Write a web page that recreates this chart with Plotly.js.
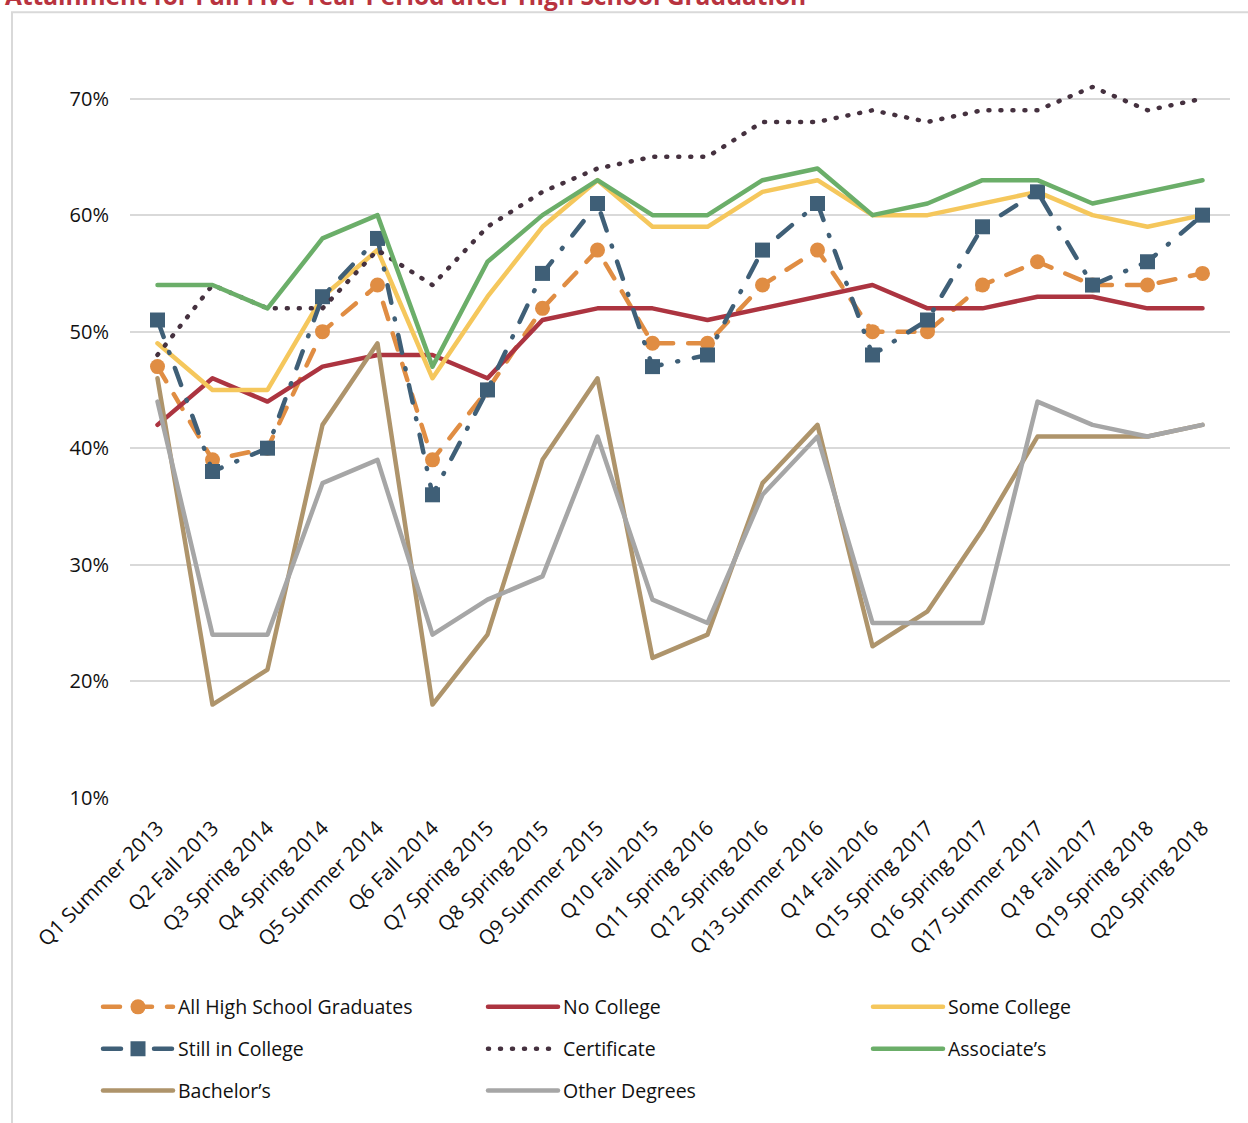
<!DOCTYPE html>
<html>
<head>
<meta charset="utf-8">
<script src="https://cdn.plot.ly/plotly-3.0.1.min.js"></script>
<style>
  html, body { margin: 0; padding: 0; background: #ffffff; }
  #chart { width: 1248px; height: 1123px; }
  path.js-line { stroke-linecap: round !important; stroke-linejoin: round !important; }
</style>
</head>
<body>
<div id="chart"></div>
<script>
const categories = [
  "Q1 Summer 2013", "Q2 Fall 2013", "Q3 Spring 2014", "Q4 Spring 2014", "Q5 Summer 2014",
  "Q6 Fall 2014", "Q7 Spring 2015", "Q8 Spring 2015", "Q9 Summer 2015", "Q10 Fall 2015",
  "Q11 Spring 2016", "Q12 Spring 2016", "Q13 Summer 2016", "Q14 Fall 2016", "Q15 Spring 2017",
  "Q16 Spring 2017", "Q17 Summer 2017", "Q18 Fall 2017", "Q19 Spring 2018", "Q20 Spring 2018"
];

const allHighSchoolGraduates = [47, 39, 40, 50, 54, 39, 45, 52, 57, 49, 49, 54, 57, 50, 50, 54, 56, 54, 54, 55];
const noCollege              = [42, 46, 44, 47, 48, 48, 46, 51, 52, 52, 51, 52, 53, 54, 52, 52, 53, 53, 52, 52];
const someCollege            = [49, 45, 45, 53, 57, 46, 53, 59, 63, 59, 59, 62, 63, 60, 60, 61, 62, 60, 59, 60];
const stillInCollege         = [51, 38, 40, 53, 58, 36, 45, 55, 61, 47, 48, 57, 61, 48, 51, 59, 62, 54, 56, 60];
const certificate            = [48, 54, 52, 52, 57, 54, 59, 62, 64, 65, 65, 68, 68, 69, 68, 69, 69, 71, 69, 70];
const associates             = [54, 54, 52, 58, 60, 47, 56, 60, 63, 60, 60, 63, 64, 60, 61, 63, 63, 61, 62, 63];
const bachelors              = [46, 18, 21, 42, 49, 18, 24, 39, 46, 22, 24, 37, 42, 23, 26, 33, 41, 41, 41, 42];
const otherDegrees           = [44, 24, 24, 37, 39, 24, 27, 29, 41, 27, 25, 36, 41, 25, 25, 25, 44, 42, 41, 42];

const seriesNames = [
  "All High School Graduates", "No College", "Some College",
  "Still in College", "Certificate", "Associate\u2019s",
  "Bachelor\u2019s", "Other Degrees"
];
const yTickValues = [10, 20, 30, 40, 50, 60, 70];
const yTickLabels = ["10%", "20%", "30%", "40%", "50%", "60%", "70%"];
const chartTitle = "Attainment for Full Five-Year Period after High School Graduation";

const LW = 4.5;
function mk(name, y, color, dash, legend, marker, lastCol) {
  const t = {
    type: "scatter",
    mode: marker ? "lines+markers" : "lines",
    x: categories, y: y, name: name,
    line: { color: color, width: LW, dash: dash },
    legend: legend,
    hoverinfo: "skip"
  };
  if (marker) t.marker = marker;
  if (lastCol) t.legendwidth = 150;
  return t;
}

const traces = [
  mk(seriesNames[0], allHighSchoolGraduates, "#E08D43", "17px,15px", "legend",
     { symbol: "circle", size: 15, color: "#E08D43" }),
  mk(seriesNames[1], noCollege, "#AC3440", "solid", "legend"),
  mk(seriesNames[2], someCollege, "#F5C75C", "solid", "legend", null, true),
  mk(seriesNames[3], stillInCollege, "#3F5F77", "18px,16px,1px,16px", "legend2",
     { symbol: "square", size: 15, color: "#3F5F77" }),
  mk(seriesNames[4], certificate, "#45313F", "1px,11px", "legend2"),
  mk(seriesNames[5], associates, "#6BAE69", "solid", "legend2", null, true),
  mk(seriesNames[6], bachelors, "#AE946B", "solid", "legend3"),
  mk(seriesNames[7], otherDegrees, "#A6A6A6", "solid", "legend3", null, true)
];

const plotLeft = 130, plotRight = 1230, plotTop = 52, plotBottom = 801;
const pw = plotRight - plotLeft, ph = plotBottom - plotTop;
const px = (x) => (x - plotLeft) / pw;
const py = (y) => (plotBottom - y) / ph;

const legendFont = { family: "Open Sans, sans-serif", size: 19.5, color: "#111111" };
function legendAt(yc) {
  return {
    orientation: "h", x: px(98), xanchor: "left", y: py(yc), yanchor: "middle",
    font: legendFont, itemwidth: 70, entrywidth: 300, entrywidthmode: "pixels",
    bgcolor: "rgba(0,0,0,0)", borderwidth: 0, itemclick: false, itemdoubleclick: false,
    traceorder: "normal"
  };
}

const tickFont = { family: "Open Sans, sans-serif", size: 20.5, color: "#111111" };

const layout = {
  width: 1248, height: 1123,
  margin: { l: plotLeft, r: 1248 - plotRight, t: plotTop, b: 1123 - plotBottom, pad: 0 },
  paper_bgcolor: "#ffffff", plot_bgcolor: "#ffffff",
  font: { family: "Open Sans, sans-serif", color: "#111111" },
  showlegend: true,
  xaxis: {
    type: "category", range: [-0.5, categories.length - 0.5],
    showgrid: false, zeroline: false, showline: false, ticks: "",
    tickangle: -45, tickfont: tickFont, ticklabelstandoff: 13,
    fixedrange: true
  },
  yaxis: {
    range: [9.98, 74], tickmode: "array", tickvals: yTickValues, ticktext: yTickLabels,
    showgrid: true, gridcolor: "#D9D9D9", gridwidth: 2,
    zeroline: false, showline: false, ticks: "",
    ticklabelstandoff: 20,
    tickfont: { family: "Open Sans, sans-serif", size: 20, color: "#111111" },
    fixedrange: true
  },
  legend: legendAt(1011),
  legend2: legendAt(1053),
  legend3: legendAt(1095),
  shapes: [{
    type: "rect", xref: "paper", yref: "paper",
    x0: px(12), x1: px(1262), y0: py(1140), y1: py(12),
    line: { color: "#D9D9D9", width: 2 }, fillcolor: "rgba(0,0,0,0)", layer: "below"
  }],
  annotations: [{
    text: "<b>" + chartTitle + "</b>", xref: "paper", yref: "paper",
    x: px(3), xanchor: "left", y: 1, yanchor: "bottom", yshift: 38,
    showarrow: false,
    font: { family: "Open Sans, sans-serif", size: 24.5, color: "#B8333F" }
  }]
};

Plotly.newPlot("chart", traces, layout, { displayModeBar: false, staticPlot: true });
</script>
</body>
</html>
